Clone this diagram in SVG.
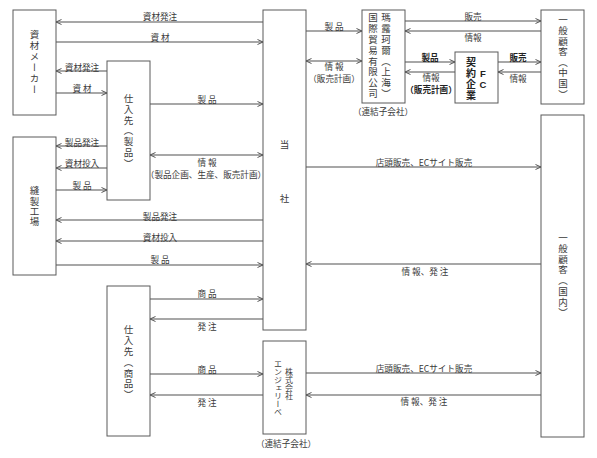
<svg xmlns="http://www.w3.org/2000/svg" width="597" height="458" viewBox="0 0 597 458">
<style>
.box{fill:#fff;stroke:#5a5a5a;stroke-width:1}
.ln{fill:none;stroke:#8a8a8a;stroke-width:1.4}
.t{font-family:"Noto Sans CJK JP","Noto Sans",sans-serif;font-size:8.6px;fill:#3a3a3a;text-anchor:middle;dominant-baseline:central}
.v{font-family:"Noto Sans CJK JP","Noto Sans",sans-serif;font-size:9.5px;fill:#3a3a3a;writing-mode:vertical-rl}
.b{font-weight:bold;fill:#222}
</style>
<defs>
<marker id="ah" viewBox="0 0 6 6" refX="6" refY="3" markerWidth="6" markerHeight="6" markerUnits="userSpaceOnUse" orient="auto-start-reverse">
<path d="M0.5,0.5 L6,3 L0.5,5.5" fill="none" stroke="#555" stroke-width="1"/>
</marker>
</defs>
<rect width="597" height="458" fill="#fff"/>

<g id="connectors">
<path class="ln" d="M263,22 H56" marker-end="url(#ah)"/>
<path class="ln" d="M56,42 H263" marker-end="url(#ah)"/>
<path class="ln" d="M107,71 H56" marker-end="url(#ah)"/>
<path class="ln" d="M56,93 H107" marker-end="url(#ah)"/>
<path class="ln" d="M150,104 H263" marker-end="url(#ah)"/>
<path class="ln" d="M150,155 H263" marker-start="url(#ah)" marker-end="url(#ah)"/>
<path class="ln" d="M107,146 H56" marker-end="url(#ah)"/>
<path class="ln" d="M107,168 H56" marker-end="url(#ah)"/>
<path class="ln" d="M56,190 H107" marker-end="url(#ah)"/>
<path class="ln" d="M263,220 H56" marker-end="url(#ah)"/>
<path class="ln" d="M263,241 H56" marker-end="url(#ah)"/>
<path class="ln" d="M56,265 H263" marker-end="url(#ah)"/>
<path class="ln" d="M306,31 H362" marker-end="url(#ah)"/>
<path class="ln" d="M306,61 H362" marker-start="url(#ah)" marker-end="url(#ah)"/>
<path class="ln" d="M405,21 H541" marker-end="url(#ah)"/>
<path class="ln" d="M541,31 H405" marker-end="url(#ah)"/>
<path class="ln" d="M405,62 H455" marker-end="url(#ah)"/>
<path class="ln" d="M455,72 H405" marker-end="url(#ah)"/>
<path class="ln" d="M498,62 H541" marker-end="url(#ah)"/>
<path class="ln" d="M541,72 H498" marker-end="url(#ah)"/>
<path class="ln" d="M306,167 H541" marker-end="url(#ah)"/>
<path class="ln" d="M541,264 H306" marker-end="url(#ah)"/>
<path class="ln" d="M150,299 H263" marker-end="url(#ah)"/>
<path class="ln" d="M263,319 H150" marker-end="url(#ah)"/>
<path class="ln" d="M150,374 H263" marker-end="url(#ah)"/>
<path class="ln" d="M263,395 H150" marker-end="url(#ah)"/>
<path class="ln" d="M306,373 H541" marker-end="url(#ah)"/>
<path class="ln" d="M541,395 H306" marker-end="url(#ah)"/>

<text class="t" x="160" y="16">資材発注</text>
<text class="t" x="160" y="37">資 材</text>
<text class="t" x="82" y="67">資材発注</text>
<text class="t" x="82" y="88">資 材</text>
<text class="t" x="207" y="99">製 品</text>
<text class="t" x="207" y="162">情 報</text>
<text class="t" x="206" y="174">（製品企画、生産、販売計画）</text>
<text class="t" x="82" y="142">製品発注</text>
<text class="t" x="82" y="163">資材投入</text>
<text class="t" x="82" y="185">製 品</text>
<text class="t" x="160" y="216">製品発注</text>
<text class="t" x="160" y="237">資材投入</text>
<text class="t" x="160" y="259">製 品</text>
<text class="t" x="334" y="26">製 品</text>
<text class="t" x="334" y="66">情 報</text>
<text class="t" x="334" y="78">（販売計画）</text>
<text class="t" x="473" y="16">販売</text>
<text class="t" x="473" y="37">情報</text>
<text class="t b" x="430" y="57">製品</text>
<text class="t" x="431" y="77">情報</text>
<text class="t b" x="431" y="89">（販売計画）</text>
<text class="t b" x="518" y="57">販売</text>
<text class="t" x="518" y="78">情報</text>
<text class="t" x="424" y="162">店頭販売、ECサイト販売</text>
<text class="t" x="425" y="271">情 報、発 注</text>
<text class="t" x="207" y="293">商 品</text>
<text class="t" x="207" y="326">発 注</text>
<text class="t" x="207" y="369">商 品</text>
<text class="t" x="207" y="402">発 注</text>
<text class="t" x="424" y="368">店頭販売、ECサイト販売</text>
<text class="t" x="424" y="401">情 報、発 注</text>
</g>

<g id="shizai-maker">
<rect class="box" x="13" y="10" width="43" height="105"/>
<text class="v" x="34.5" y="30" style="letter-spacing:1.5px">資材メーカー</text>
</g>

<g id="shiiresaki-seihin">
<rect class="box" x="107" y="61" width="43" height="139"/>
<text class="v" x="128.5" y="94" style="letter-spacing:1.2px">仕入先（製品）</text>
</g>

<g id="housei-koujou">
<rect class="box" x="13" y="137" width="43" height="138"/>
<text class="v" x="34.5" y="186" style="letter-spacing:0.8px">縫製工場</text>
</g>

<g id="tousha">
<rect class="box" x="263" y="10" width="43" height="320"/>
<text class="t" x="284.5" y="144" style="font-size:9.5px">当</text>
<text class="t" x="284.5" y="198" style="font-size:9.5px">社</text>
</g>

<g id="shanghai">
<rect class="box" x="362" y="10" width="43" height="93"/>
<text class="v" x="386" y="13" style="letter-spacing:1.3px">瑪露珂爾（上海）</text>
<text class="v" x="373" y="13" style="letter-spacing:1.3px">国際貿易有限公司</text>
<text class="t" x="383" y="111">（連結子会社）</text>
</g>

<g id="fc">
<rect class="box" x="455" y="52" width="43" height="51"/>
<text class="v b" x="471" y="57" style="font-size:10px;letter-spacing:1px">契約企業</text>
<text class="t b" x="483" y="73" style="font-family:'Liberation Sans',sans-serif;font-size:9.5px">F</text>
<text class="t b" x="483" y="84" style="font-family:'Liberation Sans',sans-serif;font-size:9.5px">C</text>
</g>

<g id="kokyaku-china">
<rect class="box" x="541" y="10" width="43" height="94"/>
<text class="v" x="563" y="15" style="letter-spacing:1.1px">一般顧客（中国）</text>
</g>

<g id="kokyaku-domestic">
<rect class="box" x="541" y="115" width="43" height="322"/>
<text class="v" x="563" y="233" style="letter-spacing:1.2px">一般顧客（国内）</text>
</g>

<g id="shiiresaki-shouhin">
<rect class="box" x="107" y="286" width="43" height="150"/>
<text class="v" x="128.5" y="325" style="letter-spacing:1.3px">仕入先（商品）</text>
</g>

<g id="angelique">
<rect class="box" x="263" y="341" width="43" height="93"/>
<text class="v" x="289" y="368" style="font-size:8px;letter-spacing:0px">株式会社</text>
<text class="v" x="278" y="360" style="font-size:8px;letter-spacing:0px">エンジェリーベ</text>
<text class="t" x="286" y="443">（連結子会社）</text>
</g>
</svg>
